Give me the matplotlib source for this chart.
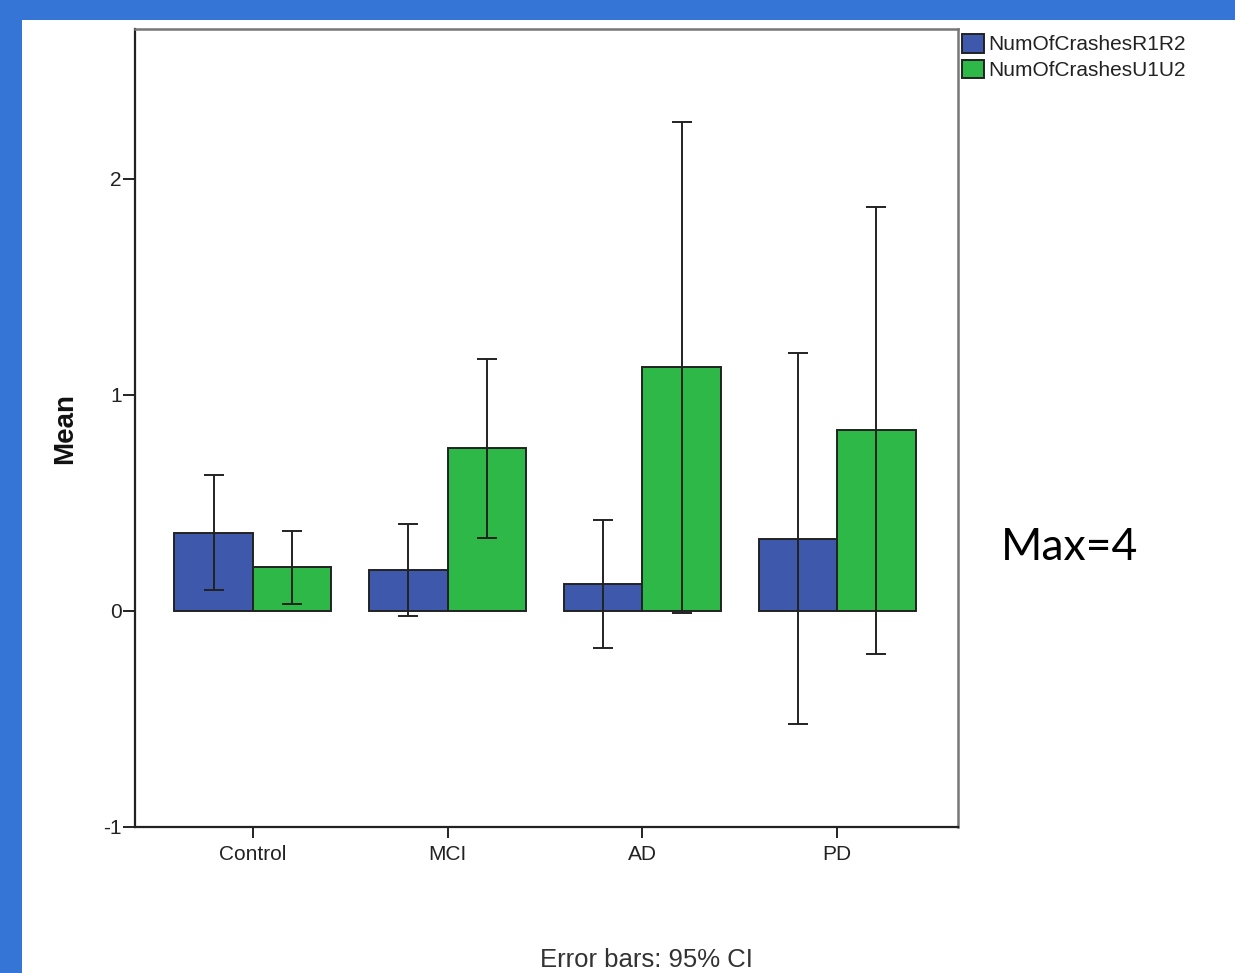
import matplotlib
matplotlib.use("Agg")
import matplotlib.pyplot as plt
import numpy as np
from matplotlib.patches import Rectangle

categories = ["Control", "MCI", "AD", "PD"]
series_names = ["NumOfCrashesR1R2", "NumOfCrashesU1U2"]
mean_r = [0.361, 0.190, 0.125, 0.335]
ci_low_r = [0.097, -0.025, -0.170, -0.523]
ci_high_r = [0.630, 0.404, 0.421, 1.193]
mean_u = [0.204, 0.753, 1.131, 0.838]
ci_low_u = [0.034, 0.339, -0.008, -0.198]
ci_high_u = [0.370, 1.167, 2.265, 1.870]
yticks = [-1, 0, 1, 2]

plt.rcParams['font.family'] = ['Liberation Sans', 'DejaVu Sans']

W, H = 1235, 973
fig = plt.figure(figsize=(W / 100, H / 100), dpi=100, facecolor='white')

# blue frame strips
border = '#3575d5'
fig.patches.append(Rectangle((0, 1 - 20 / H), 1, 20 / H, transform=fig.transFigure,
                             facecolor=border, edgecolor='none', zorder=0))
fig.patches.append(Rectangle((0, 0), 22 / W, 1, transform=fig.transFigure,
                             facecolor=border, edgecolor='none', zorder=0))

ax = fig.add_axes([135 / W, 1 - 827 / H, (958 - 135) / W, (827 - 29) / H])

x = np.arange(len(categories))
bw = 0.4025
colors = ['#3e58ac', '#2eb848']
means = [mean_r, mean_u]
lows = [ci_low_r, ci_low_u]
highs = [ci_high_r, ci_high_u]
offsets = [-bw / 2, bw / 2]
for k in range(2):
    m = np.array(means[k])
    lo = np.array(lows[k])
    hi = np.array(highs[k])
    ax.bar(x + offsets[k], m, width=bw, color=colors[k], edgecolor='#222222',
           linewidth=1.4, label=series_names[k], zorder=2)
    ax.errorbar(x + offsets[k], m, yerr=[m - lo, hi - m], fmt='none',
                ecolor='#222222', elinewidth=1.4, capsize=7.2, capthick=1.4, zorder=3)

ax.set_xlim(-0.605, 3.62)
ax.set_ylim(-1, 2.694)
ax.set_yticks(yticks)
ax.set_yticklabels([str(t) for t in yticks])
ax.set_xticks(x)
ax.set_xticklabels(categories)
ax.tick_params(axis='both', labelsize=15, colors='#222222', width=1.4)
ax.tick_params(axis='y', length=8.5, pad=1)
ax.tick_params(axis='x', length=8, pad=5)
for s in ['left', 'bottom']:
    ax.spines[s].set_color('#222222')
    ax.spines[s].set_linewidth(1.6)
for s in ['top', 'right']:
    ax.spines[s].set_color('#777777')
    ax.spines[s].set_linewidth(1.8)

fig.text(65 / W, 1 - 428 / H, 'Mean', rotation=90, ha='center', va='center',
         fontsize=20, fontweight='bold', color='#111111')

leg = ax.legend(loc='upper left', bbox_to_anchor=(962 / W, 1 - 34 / H),
                bbox_transform=fig.transFigure, frameon=False, fontsize=15,
                handlelength=1.05, handleheight=1.0, handletextpad=0.2,
                borderpad=0, borderaxespad=0, labelspacing=0.25)
for t in leg.get_texts():
    t.set_color('#222222')

fig.text(646 / W, 1 - 960 / H, 'Error bars: 95% CI', ha='center', va='center',
         fontsize=18.5, color='#333333')

fig.text(1070 / W, 1 - 547 / H, 'Max=4', ha='center', va='center',
         fontsize=32, color='black', family=['Lato', 'DejaVu Sans'])

fig.savefig('out.png', dpi=100, facecolor='white')
